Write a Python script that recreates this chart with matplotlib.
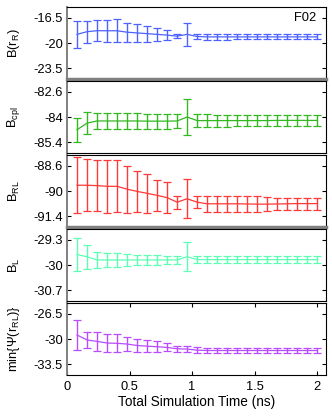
import numpy as np
import matplotlib
matplotlib.use("Agg")
import matplotlib.pyplot as plt

plt.rcParams['font.family'] = ['Liberation Sans', 'DejaVu Sans']
plt.rcParams['axes.unicode_minus'] = False
plt.rcParams['mathtext.default'] = 'regular'

# --- datos: 25 tiempos (ns) ---
t = [0.08 * k for k in range(1, 26)]

b_rr = [-18.8, -18.43, -18.29, -18.3, -18.3, -18.5, -18.6, -18.7, -18.8, -18.9, -19.05, -18.8,
        -19.1, -19.15, -19.15, -19.15, -19.15, -19.15, -19.15, -19.15, -19.15, -19.15, -19.15, -19.15, -19.15]
b_rr_err = [1.9, 1.55, 1.43, 1.5, 1.6, 1.3, 1.2, 1.1, 0.9, 0.7, 0.3, 1.6,
            0.4, 0.38, 0.38, 0.38, 0.36, 0.36, 0.36, 0.36, 0.36, 0.36, 0.36, 0.36, 0.36]

b_cpl = [-84.71, -84.34, -84.22, -84.22, -84.22, -84.22, -84.22, -84.23, -84.23, -84.23, -84.22, -84.0,
         -84.2, -84.2, -84.2, -84.2, -84.2, -84.2, -84.2, -84.2, -84.19, -84.19, -84.19, -84.19, -84.19]
b_cpl_err = [0.67, 0.62, 0.45, 0.45, 0.45, 0.45, 0.43, 0.42, 0.42, 0.42, 0.4, 1.0,
             0.36, 0.34, 0.33, 0.33, 0.32, 0.32, 0.32, 0.31, 0.31, 0.3, 0.3, 0.3, 0.3]

b_rl = [-89.68, -89.68, -89.7, -89.74, -89.74, -89.9, -90.02, -90.13, -90.24, -90.37, -90.62, -90.43,
        -90.62, -90.71, -90.71, -90.71, -90.71, -90.72, -90.73, -90.73, -90.72, -90.71, -90.7, -90.7, -90.7]
b_rl_err = [1.55, 1.45, 1.43, 1.46, 1.45, 1.3, 1.15, 1.1, 0.87, 0.87, 0.37, 1.07,
            0.35, 0.43, 0.43, 0.43, 0.43, 0.43, 0.43, 0.4, 0.35, 0.33, 0.33, 0.33, 0.33]

b_l = [-29.71, -29.77, -29.86, -29.86, -29.86, -29.86, -29.86, -29.86, -29.86, -29.86, -29.86, -29.77,
       -29.85, -29.85, -29.85, -29.85, -29.85, -29.85, -29.85, -29.85, -29.85, -29.85, -29.85, -29.85, -29.85]
b_l_err = [0.45, 0.33, 0.22, 0.2, 0.2, 0.16, 0.15, 0.14, 0.13, 0.12, 0.1, 0.4,
           0.09, 0.09, 0.09, 0.09, 0.09, 0.09, 0.09, 0.09, 0.09, 0.09, 0.09, 0.09, 0.09]

psi_min = [-29.44, -30.14, -30.33, -30.56, -30.6, -30.7, -30.9, -31.0, -31.07, -31.17, -31.36, -31.4,
           -31.55, -31.6, -31.6, -31.6, -31.6, -31.6, -31.6, -31.6, -31.6, -31.6, -31.6, -31.6, -31.6]
psi_min_err = [2.1, 1.07, 1.3, 1.26, 1.26, 1.0, 0.9, 0.85, 0.8, 0.55, 0.4, 0.45,
               0.37, 0.37, 0.37, 0.37, 0.37, 0.37, 0.37, 0.37, 0.37, 0.37, 0.37, 0.37, 0.37]

paneles = [
    (b_rr, b_rr_err, 'B(r$_{R}$)', '#4d62ff', (-25, -15), [-23.5, -20, -16.5], ['-23.5', '-20', '-16.5']),
    (b_cpl, b_cpl_err, 'B$_{cpl}$', '#33b822', (-86, -82), [-85.4, -84, -82.6], ['-85.4', '-84', '-82.6']),
    (b_rl, b_rl_err, 'B$_{RL}$', '#ff3838', (-92, -88), [-91.4, -90, -88.6], ['-91.4', '-90', '-88.6']),
    (b_l, b_l_err, 'B$_{L}$', '#5effb4', (-31, -29), [-30.7, -30, -29.3], ['-30.7', '-30', '-29.3']),
    (psi_min, psi_min_err, 'min{\u03a8(r$_{RL}$)}', '#b94cff', (-35, -25), [-33.5, -30, -26.5], ['-33.5', '-30', '-26.5']),
]

W, H = 332, 418
fig = plt.figure(figsize=(W / 100, H / 100), dpi=100)
izq, der = 67, 326
tops = [7, 81, 155, 229, 303]
alto = 72

for i, (y, e, etiqueta, color, ylim, yt, ytl) in enumerate(paneles):
    ax = fig.add_axes([izq / W, 1 - (tops[i] + alto) / H, (der - izq) / W, alto / H])
    ax.errorbar(t, y, yerr=e, color=color, lw=0.9, elinewidth=1.0, capsize=2.6, capthick=0.9)
    ax.set_xlim(0, 2.07)
    ax.set_ylim(*ylim)
    ax.set_yticks(yt)
    ax.set_yticklabels(ytl, fontsize=9.3)
    ax.tick_params(axis='y', direction='in', length=3, right=True, pad=3)
    ax.set_ylabel(etiqueta, fontsize=9.3)
    ax.yaxis.set_label_coords(-0.175, 0.5)
    for s in ax.spines.values():
        s.set_linewidth(0.8)
    ax.spines['left'].set_color('#808080')
    ax.spines['left'].set_linewidth(1.4)
    if i in (0, 2):
        ax.spines['bottom'].set_color('#808080')
        ax.spines['bottom'].set_linewidth(2.5)
    if i < 4:
        ax.set_xticks([])
    else:
        ax.set_xticks([0, 0.5, 1, 1.5, 2])
        ax.set_xticklabels(['0', '0.5', '1', '1.5', '2'], fontsize=9.3)
        ax.tick_params(axis='x', direction='in', length=3, top=True, pad=4)
        ax.set_xlabel('Total Simulation Time (ns)', fontsize=9.8, labelpad=2)
    if i == 0:
        ax.text(0.962, 0.93, 'F02', transform=ax.transAxes, ha='right', va='top', fontsize=9.3)

fig.savefig('out.png', dpi=100)
